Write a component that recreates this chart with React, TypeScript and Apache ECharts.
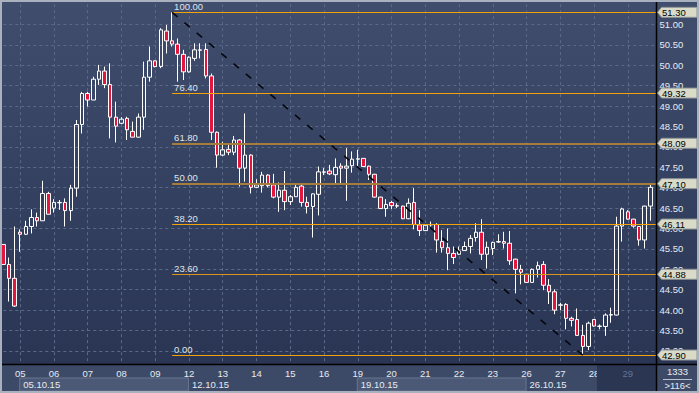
import React, { useEffect, useRef } from 'react';
import * as echarts from 'echarts';

// ---------- data ----------
const DAYS = ['05', '06', '07', '08', '09', '12', '13', '14', '15', '16', '19', '20', '21', '22', '23', '26', '27', '28', '29'];
const WEEKS = ['05.10.15', '12.10.15', '19.10.15', '26.10.15'];
const WEEK_SHADED = [true, false, true, false];
const PRE_CANDLES = 3; // 4h candles of 02.10 still visible at the left
const PER_DAY = 6;
const DAYS_PER_WEEK = 5;

const OPEN = [45.61, 45.12, 44.78, 45.91, 45.86, 46.05, 46.27, 46.19, 46.86, 46.50,
  46.63, 46.64, 46.44, 46.99, 48.55, 49.31, 49.15, 49.66, 49.86, 49.53,
  48.73, 48.58, 48.70, 48.38, 48.24, 48.73, 49.71, 50.11, 49.97, 50.84,
  50.60, 50.52, 50.27, 49.84, 50.17, 50.37, 50.39, 49.74, 48.36, 47.80,
  47.94, 47.87, 48.17, 47.48, 47.80, 47.01, 47.05, 47.31, 47.07, 46.77,
  46.94, 46.66, 46.78, 47.04, 46.64, 46.54, 46.84, 47.38, 47.41, 47.32,
  47.53, 47.48, 47.54, 47.70, 47.72, 47.53, 47.33, 46.77, 46.49, 46.64,
  46.55, 46.55, 46.24, 46.64, 46.09, 45.95, 46.09, 46.10, 45.68, 45.53,
  45.39, 45.37, 45.46, 45.56, 45.78, 45.91, 45.37, 45.51, 45.67, 45.68,
  45.64, 45.25, 45.00, 44.88, 44.68, 45.00, 45.12, 44.61, 44.45, 44.12,
  44.14, 43.80, 43.77, 43.38, 43.11, 43.77, 43.60, 43.60, 43.88, 43.88,
  46.06, 46.41, 46.23, 46.05, 45.72, 46.55];
const CLOSE = [45.12, 44.78, 44.10, 45.86, 46.05, 46.27, 46.19, 46.86, 46.35, 46.64,
  46.64, 46.44, 46.99, 48.55, 49.31, 49.15, 49.66, 49.86, 49.53, 48.73,
  48.51, 48.68, 48.42, 48.24, 48.73, 49.71, 50.11, 49.97, 50.87, 50.60,
  50.52, 50.27, 49.84, 50.20, 50.38, 50.38, 49.74, 48.36, 47.80, 47.93,
  47.87, 48.17, 47.48, 47.80, 47.01, 47.07, 47.31, 47.05, 46.77, 46.94,
  46.66, 46.78, 47.01, 46.64, 46.54, 46.85, 47.39, 47.39, 47.34, 47.50,
  47.48, 47.53, 47.70, 47.71, 47.52, 47.33, 46.77, 46.49, 46.59, 46.56,
  46.56, 46.24, 46.62, 46.10, 45.95, 46.08, 46.10, 45.72, 45.53, 45.39,
  45.29, 45.45, 45.56, 45.76, 45.91, 45.37, 45.54, 45.66, 45.68, 45.64,
  45.21, 45.00, 44.93, 44.68, 45.00, 45.09, 44.61, 44.45, 44.00, 44.13,
  43.80, 43.75, 43.38, 43.11, 43.68, 43.61, 43.61, 43.88, 43.89, 46.06,
  46.48, 46.23, 46.06, 45.72, 46.55, 47.01];
const LOW = [45.11, 44.21, 44.08, 45.43, 45.84, 45.88, 46.05, 46.19, 46.35, 46.39,
  46.46, 46.05, 46.19, 46.78, 48.33, 48.99, 49.15, 49.52, 49.44, 48.21,
  48.11, 48.56, 48.17, 48.24, 48.23, 48.42, 49.60, 49.95, 49.93, 50.29,
  50.46, 49.60, 49.64, 49.82, 50.11, 50.17, 49.68, 48.17, 47.49, 47.78,
  47.80, 47.80, 47.03, 47.15, 46.86, 46.99, 46.88, 47.01, 46.74, 46.41,
  46.45, 46.58, 46.78, 46.54, 46.37, 45.78, 46.32, 47.31, 47.31, 47.07,
  47.09, 46.68, 47.37, 47.52, 47.51, 47.19, 46.76, 46.48, 46.29, 46.48,
  46.50, 46.23, 46.23, 45.98, 45.82, 45.94, 46.05, 45.41, 45.41, 44.98,
  45.13, 45.35, 45.45, 45.39, 45.68, 45.23, 45.02, 45.35, 45.65, 45.51,
  45.11, 44.41, 44.63, 44.67, 44.67, 44.80, 44.49, 44.15, 43.90, 44.00,
  43.53, 43.60, 43.38, 42.90, 43.02, 43.59, 43.53, 43.37, 43.69, 43.87,
  45.68, 46.22, 46.02, 45.58, 45.51, 46.19];
const HIGH = [45.62, 45.29, 46.05, 45.98, 46.19, 46.47, 46.39, 47.17, 46.90, 46.72,
  46.70, 46.74, 47.07, 48.66, 49.35, 49.35, 49.72, 50.01, 49.97, 50.05,
  49.11, 48.73, 48.74, 48.62, 48.82, 50.09, 50.46, 50.12, 50.91, 50.99,
  51.30, 50.66, 50.38, 50.22, 50.54, 50.54, 50.54, 49.80, 48.38, 48.13,
  48.09, 48.27, 48.19, 48.82, 47.82, 47.21, 47.39, 47.33, 47.34, 47.13,
  47.41, 46.82, 47.11, 47.07, 46.78, 46.86, 47.52, 47.48, 47.56, 47.72,
  47.60, 47.97, 47.89, 47.93, 47.73, 47.54, 47.34, 46.78, 46.72, 46.68,
  46.62, 46.56, 46.74, 46.99, 46.45, 46.09, 46.17, 46.13, 45.96, 46.00,
  45.56, 45.56, 45.68, 45.84, 46.13, 46.23, 45.68, 45.68, 45.86, 45.92,
  45.94, 45.26, 45.11, 44.89, 45.02, 45.19, 45.20, 44.76, 44.51, 44.18,
  44.17, 43.84, 44.04, 43.64, 43.72, 43.78, 43.65, 43.92, 44.06, 46.29,
  46.51, 46.45, 46.24, 46.06, 46.56, 47.09];

const FIB_LABELS = ['100.00', '76.40', '61.80', '50.00', '38.20', '23.60', '0.00'];
const FIB_VALUES = [51.30, 49.32, 48.09, 47.10, 46.11, 44.88, 42.90];
const FIB_START_INDEX = 30; // candle of the swing high
const FIB_END_INDEX = 103; // candle of the swing low
const Y_MIN = 42.5;
const Y_MAX = 51.5;
const Y_STEP = 0.5;
const COUNTER_TOP = '1333';
const COUNTER_BOTTOM = '>116<';

// ---------- style ----------
const FONT = '"Liberation Sans", Arial, sans-serif';
const FS = 9.5;
const TXT = '#e6ebf2';
const GRIDLINE = '#5a6988';
const FIB_BRIGHT = '#f3a20a';
const FIB_DARK = '#a67e3c';
const FIB_COLORS = [FIB_BRIGHT, FIB_BRIGHT, FIB_DARK, FIB_DARK, FIB_BRIGHT, '#d9951c', FIB_BRIGHT];

const PLOT_LEFT = 3.3;
const PLOT_RIGHT = 656;
const PLOT_BOTTOM = 364;
const PX_TOP_VAL = 4.14; // pixel of Y_MAX
const PX_PER_UNIT = 40.8;

export default function App() {
  const ref = useRef<HTMLDivElement>(null);

  useEffect(() => {
    if (!ref.current) return;
    const chart = echarts.init(ref.current, null, { renderer: 'svg' });

    const n = OPEN.length;
    const cats: string[] = [];
    for (let i = 0; i <= n; i++) {
      let lab = '';
      if (i >= PRE_CANDLES && (i - PRE_CANDLES) % PER_DAY === 0) {
        lab = DAYS[(i - PRE_CANDLES) / PER_DAY] ?? '';
      }
      cats.push(lab);
    }
    const isDay = (i: number) => cats[i] !== '' && cats[i] !== undefined;
    const lastDay = DAYS[DAYS.length - 1];
    const data = OPEN.map((o, i) => [o, CLOSE[i], LOW[i], HIGH[i]]);

    const fibLines: any[] = FIB_VALUES.map((v, k) => [
      {
        coord: [FIB_START_INDEX, v],
        lineStyle: { color: FIB_COLORS[k], width: k === 2 || k === 3 ? 2 : 1.2, type: 'solid' },
        label: {
          show: true,
          position: 'insideStartTop',
          formatter: FIB_LABELS[k],
          color: '#dfe4ec',
          fontSize: FS,
          fontFamily: FONT,
          distance: [2, 1],
        },
      },
      { coord: [n, v] },
    ]);
    const trend: any = [
      {
        coord: [FIB_START_INDEX, FIB_VALUES[0]],
        lineStyle: { color: '#05070d', width: 1.6, type: [7, 9] },
        label: { show: false },
      },
      { coord: [FIB_END_INDEX, FIB_VALUES[FIB_VALUES.length - 1]] },
    ];

    const gridHeight = (Y_MAX - Y_MIN) * PX_PER_UNIT;

    chart.setOption({
      animation: false,
      grid: [
        { left: PLOT_LEFT, right: 699 - PLOT_RIGHT, top: PX_TOP_VAL, height: gridHeight },
        { left: PLOT_LEFT, right: 699 - PLOT_RIGHT, top: 358, height: 9 },
      ],
      xAxis: [
        {
          type: 'category',
          gridIndex: 0,
          data: cats,
          boundaryGap: false,
          axisLine: { show: false },
          axisTick: { show: false },
          axisLabel: { show: false },
          splitLine: {
            show: true,
            interval: (i: number) => isDay(i),
            lineStyle: { color: GRIDLINE, width: 1, type: [3, 3] },
          },
        },
        {
          type: 'category',
          gridIndex: 1,
          data: cats,
          boundaryGap: false,
          z: 5,
          axisLine: { show: false },
          axisTick: { show: false },
          splitLine: { show: false },
          axisLabel: {
            interval: (i: number) => isDay(i),
            margin: 1,
            color: TXT,
            fontSize: FS,
            fontFamily: FONT,
            formatter: (v: string) => (v === lastDay ? '' : v),
          },
        },
      ],
      yAxis: [
        {
          type: 'value',
          gridIndex: 0,
          position: 'right',
          min: Y_MIN,
          max: Y_MAX,
          interval: Y_STEP,
          axisLine: { show: false },
          axisTick: { show: false },
          axisLabel: {
            margin: 3.5,
            color: TXT,
            fontSize: FS,
            fontFamily: FONT,
            showMaxLabel: false,
            showMinLabel: false,
            formatter: (v: number) => v.toFixed(2),
          },
          splitLine: {
            show: true,
            showMaxLine: false,
            showMinLine: false,
            lineStyle: { color: GRIDLINE, width: 1, type: [3, 3] },
          },
        },
        { type: 'value', gridIndex: 1, show: false },
      ],
      series: [
        {
          type: 'candlestick',
          xAxisIndex: 0,
          yAxisIndex: 0,
          data,
          barWidth: 4,
          itemStyle: {
            color: 'rgba(0,0,0,0)',
            color0: '#e3173e',
            borderColor: '#ffffff',
            borderColor0: '#ffffff',
            borderWidth: 1,
          },
          markLine: {
            silent: true,
            animation: false,
            symbol: ['none', 'none'],
            data: [...fibLines, trend],
          },
        },
      ],
    });

    const yPx = (v: number) => chart.convertToPixel({ yAxisIndex: 0 }, v) as unknown as number;
    const xPx = (i: number) => chart.convertToPixel({ xAxisIndex: 0 }, i) as unknown as number;

    const els: any[] = [];
    // backgrounds
    els.push({
      type: 'rect', z: -10, silent: true,
      shape: { x: 2, y: 2, width: 695, height: PLOT_BOTTOM - 2 },
      style: {
        fill: new echarts.graphic.LinearGradient(0, 0, 0, 1, [
          { offset: 0, color: '#404d6c' },
          { offset: 1, color: '#2a3554' },
        ]),
      },
    });
    els.push({
      type: 'rect', z: 1, silent: true,
      shape: { x: 2, y: PLOT_BOTTOM, width: 695, height: 391 - PLOT_BOTTOM },
      style: { fill: '#3d4a67' },
    });
    // week boxes and labels
    WEEKS.forEach((w, k) => {
      const i0 = PRE_CANDLES + k * DAYS_PER_WEEK * PER_DAY;
      const i1 = Math.min(i0 + DAYS_PER_WEEK * PER_DAY, n);
      const x0 = xPx(i0);
      const x1 = k === WEEKS.length - 1 ? PLOT_RIGHT : xPx(i1);
      if (WEEK_SHADED[k]) {
        els.push({
          type: 'rect', z: 2, silent: true,
          shape: { x: x0 - 0.5, y: 378, width: x1 - x0, height: 13 },
          style: { fill: '#4b5976', stroke: '#67758f', lineWidth: 1 },
        });
      }
      els.push({
        type: 'text', z: 3, silent: true, x: x0 + 3, y: 384.5,
        style: { text: w, fill: TXT, fontSize: FS, fontFamily: FONT, verticalAlign: 'middle', align: 'left' },
      });
    });
    // dimmed current-day block
    const lastIdx = PRE_CANDLES + (DAYS.length - 1) * PER_DAY;
    const dimStart = (xPx(lastIdx - 6) + xPx(lastIdx - 5)) / 2;
    els.push({
      type: 'rect', z: 6, silent: true,
      shape: { x: dimStart, y: PLOT_BOTTOM + 1, width: PLOT_RIGHT - dimStart, height: 391 - PLOT_BOTTOM - 1 },
      style: { fill: '#2b3653' },
    });
    els.push({
      type: 'text', z: 7, silent: true, x: xPx(lastIdx), y: 373.5,
      style: { text: lastDay, fill: '#62749a', fontSize: FS, fontFamily: FONT, verticalAlign: 'middle', align: 'center' },
    });
    // counters bottom right
    els.push({
      type: 'text', z: 7, silent: true, x: 677.5, y: 371.5,
      style: { text: COUNTER_TOP, fill: TXT, fontSize: FS, fontFamily: FONT, verticalAlign: 'middle', align: 'center' },
    });
    els.push({
      type: 'line', z: 7, silent: true,
      shape: { x1: 663, y1: 379.5, x2: 692, y2: 379.5 },
      style: { stroke: '#b9c2d0', lineWidth: 1 },
    });
    els.push({
      type: 'text', z: 7, silent: true, x: 677.5, y: 385.5,
      style: { text: COUNTER_BOTTOM, fill: TXT, fontSize: FS, fontFamily: FONT, verticalAlign: 'middle', align: 'center' },
    });
    // separators
    els.push({
      type: 'line', z: 8, silent: true,
      shape: { x1: 2, y1: PLOT_BOTTOM + 0.5, x2: 697, y2: PLOT_BOTTOM + 0.5 },
      style: { stroke: '#000', lineWidth: 1.5 },
    });
    els.push({
      type: 'line', z: 8, silent: true,
      shape: { x1: PLOT_RIGHT + 0.5, y1: 2, x2: PLOT_RIGHT + 0.5, y2: 391 },
      style: { stroke: '#000', lineWidth: 1.5 },
    });
    // value tags
    FIB_VALUES.forEach((v) => {
      const c = yPx(v);
      els.push({
        type: 'polygon', z: 9, silent: true,
        shape: { points: [[657.5, c], [661.5, c - 5], [697, c - 5], [697, c + 5], [661.5, c + 5]] },
        style: { fill: '#d9dbc8', stroke: '#8d9497', lineWidth: 1 },
      });
      els.push({
        type: 'text', z: 10, silent: true, x: 662, y: c + 0.5,
        style: { text: v.toFixed(2), fill: '#000', fontSize: FS, fontFamily: FONT, verticalAlign: 'middle', align: 'left' },
      });
    });
    // frame
    const frame = '#a9b1bf';
    els.push({ type: 'rect', z: 11, silent: true, shape: { x: 0, y: 0, width: 699, height: 2 }, style: { fill: frame } });
    els.push({ type: 'rect', z: 11, silent: true, shape: { x: 0, y: 391, width: 699, height: 2 }, style: { fill: frame } });
    els.push({ type: 'rect', z: 11, silent: true, shape: { x: 0, y: 0, width: 2, height: 393 }, style: { fill: frame } });
    els.push({ type: 'rect', z: 11, silent: true, shape: { x: 697, y: 0, width: 2, height: 393 }, style: { fill: frame } });

    chart.setOption({ graphic: { elements: els } });

    return () => chart.dispose();
  }, []);

  return (
    <div
      ref={ref}
      style={{ position: 'fixed', left: 0, top: 0, width: 699, height: 393, background: '#2f3a58' }}
    />
  );
}
